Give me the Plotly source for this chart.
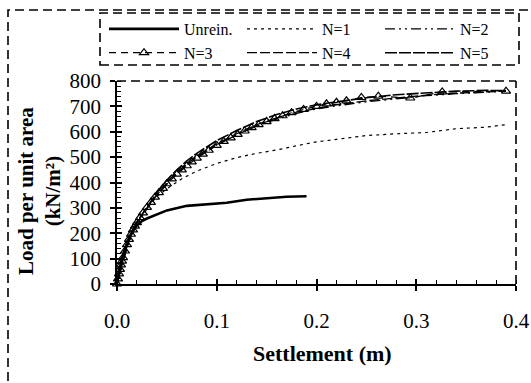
import plotly.graph_objects as go

# ---------------- data ----------------
unrein_x = [0, 0.002, 0.005, 0.008, 0.012, 0.016, 0.02, 0.025, 0.03, 0.04, 0.05, 0.07, 0.09, 0.11, 0.13, 0.15, 0.17, 0.19]
unrein_y = [0, 50, 100, 140, 180, 210, 232, 248, 258, 275, 290, 308, 314, 320, 332, 338, 344, 346]

n1_x = [0, 0.003, 0.006, 0.01, 0.015, 0.02, 0.03, 0.04, 0.05, 0.065, 0.08, 0.1, 0.12, 0.14, 0.16, 0.18, 0.2, 0.22, 0.25, 0.28, 0.31, 0.34, 0.37, 0.39]
n1_y = [0, 60, 110, 160, 210, 245, 300, 345, 375, 415, 445, 475, 498, 515, 528, 545, 560, 570, 585, 592, 597, 612, 618, 628]

upper_x = [0, 0.003, 0.006, 0.01, 0.015, 0.02, 0.03, 0.04, 0.05, 0.06, 0.07, 0.08, 0.1, 0.12, 0.14, 0.16, 0.18, 0.2, 0.22, 0.25, 0.28, 0.31, 0.34, 0.37, 0.39]
n2_y = [0, 45, 90, 142, 196, 236, 296, 348, 395, 435, 470, 500, 548, 588, 622, 650, 672, 690, 702, 718, 730, 742, 750, 757, 760]
n4_y = [0, 48, 92, 145, 200, 240, 300, 352, 400, 440, 474, 505, 552, 592, 628, 655, 677, 693, 706, 722, 734, 744, 752, 758, 760]
n5_y = [0, 50, 95, 150, 205, 245, 305, 360, 410, 450, 485, 515, 565, 605, 640, 668, 690, 706, 718, 734, 746, 754, 760, 763, 762]

n3_x = [0, 0.001, 0.002, 0.003, 0.004, 0.005, 0.006, 0.008, 0.01, 0.012, 0.014, 0.016, 0.018, 0.02, 0.023,
        0.026, 0.03, 0.034, 0.038, 0.042, 0.046, 0.05, 0.055, 0.06, 0.065, 0.07, 0.075, 0.08, 0.086, 0.092,
        0.1, 0.107, 0.114, 0.121, 0.128, 0.135, 0.142, 0.15, 0.158, 0.166, 0.175, 0.187, 0.2, 0.21, 0.22,
        0.23, 0.245, 0.262, 0.294, 0.326, 0.39]
n3_y = [0, 20, 40, 58, 75, 90, 104, 130, 155, 176, 196, 213, 228, 242, 262,
        280, 302, 322, 342, 360, 377, 395, 414, 433, 450, 466, 481, 496, 512, 527,
        546, 562, 576, 590, 603, 616, 628, 640, 652, 663, 675, 688, 700, 710, 716,
        722, 735, 740, 733, 757, 760]

x_ticks = [0, 0.1, 0.2, 0.3, 0.4]
x_ticklabels = ["0.0", "0.1", "0.2", "0.3", "0.4"]
y_ticks = [0, 100, 200, 300, 400, 500, 600, 700, 800]

# ---------------- figure ----------------
W, H = 531, 383
L, R, T, B = 117, 15, 81, 99
pw, ph = W - L - R, H - T - B

def px(xp):
    return (xp - L) / pw

def py(yp):
    return (H - B - yp) / ph

SERIF = "Liberation Serif, Times New Roman, serif"

fig = go.Figure()
fig.add_trace(go.Scatter(x=unrein_x, y=unrein_y, name="Unrein.", mode="lines",
                         line=dict(color="black", width=2.6)))
fig.add_trace(go.Scatter(x=n1_x, y=n1_y, name="N=1", mode="lines",
                         line=dict(color="black", width=1.2, dash="3px,4px")))
fig.add_trace(go.Scatter(x=upper_x, y=n2_y, name="N=2", mode="lines",
                         line=dict(color="black", width=1.3, dash="10px,4px,2px,4px,2px,4px")))
fig.add_trace(go.Scatter(x=n3_x, y=n3_y, name="N=3", mode="lines+markers",
                         line=dict(color="black", width=1.2, dash="7px,5px"),
                         marker=dict(symbol="triangle-up-open", size=8, color="black",
                                     line=dict(width=1.2, color="black")),
                         cliponaxis=False))
fig.add_trace(go.Scatter(x=upper_x, y=n4_y, name="N=4", mode="lines",
                         line=dict(color="black", width=1.3, dash="10px,3px")))
fig.add_trace(go.Scatter(x=upper_x, y=n5_y, name="N=5", mode="lines",
                         line=dict(color="black", width=1.6, dash="12px,2px")))

tickfont = dict(family=SERIF, size=21, color="black")

fig.update_layout(
    width=W, height=H,
    margin=dict(l=L, r=R, t=T, b=B, autoexpand=False),
    paper_bgcolor="white", plot_bgcolor="white",
    showlegend=True,
    legend=dict(orientation="h", x=px(104), xanchor="left", y=py(12), yanchor="top",
                font=dict(family=SERIF, size=16, color="black"),
                bgcolor="rgba(0,0,0,0)", borderwidth=0,
                entrywidth=53, entrywidthmode="pixels", itemwidth=70,
                traceorder="normal"),
    xaxis=dict(range=[0, 0.4], tickvals=x_ticks, ticktext=x_ticklabels,
               showgrid=False, zeroline=False, showline=True, linecolor="black", linewidth=1.5,
               ticks="outside", ticklen=5, tickwidth=1.5, tickcolor="black",
               minor=dict(dtick=0.02, ticks="inside", ticklen=4, tickwidth=1.3, tickcolor="black"),
               tickfont=tickfont, ticklabelstandoff=12),
    xaxis2=dict(range=[0, 0.4], overlaying="x", anchor="y", tickvals=x_ticks, showticklabels=False,
                showgrid=False, zeroline=False, showline=False,
                ticks="inside", ticklen=5, tickwidth=1.5, tickcolor="black"),
    yaxis=dict(range=[0, 800], tickvals=y_ticks,
               showgrid=False, zeroline=False, showline=True, linecolor="black", linewidth=1.5,
               ticks="outside", ticklen=5, tickwidth=1.5, tickcolor="black",
               minor=dict(dtick=20, ticks="inside", ticklen=4, tickwidth=1.3, tickcolor="black"),
               tickfont=tickfont, ticklabelstandoff=5),
    yaxis2=dict(range=[0, 800], overlaying="y", anchor="x", tickvals=y_ticks, showticklabels=False,
                showgrid=False, zeroline=False, showline=False, side="left",
                ticks="inside", ticklen=5, tickwidth=1.5, tickcolor="black"),
    annotations=[
        dict(text="<b>Load per unit area<br>(kN/m²)</b>", xref="paper", yref="paper",
             x=px(39), y=py(191), xanchor="center", yanchor="middle", textangle=-90,
             showarrow=False, font=dict(family=SERIF, size=21, color="black")),
        dict(text="<b>Settlement (m)</b>", xref="paper", yref="paper",
             x=px(322), y=py(353), xanchor="center", yanchor="middle",
             showarrow=False, font=dict(family=SERIF, size=22, color="black")),
    ],
    shapes=[
        # outer dashed frame
        dict(type="rect", xref="paper", yref="paper", x0=px(8), x1=px(560), y0=py(420), y1=py(10),
             line=dict(color="black", width=1.6, dash="9px,5px"), layer="below"),
        # legend dashed box
        dict(type="rect", xref="paper", yref="paper", x0=px(100), x1=px(519), y0=py(65), y1=py(13),
             line=dict(color="black", width=1.6, dash="9px,5px")),
        # dashed top and right plot frame
        dict(type="line", xref="paper", yref="paper", x0=0, x1=1, y0=1, y1=1,
             line=dict(color="black", width=1.6, dash="9px,5px")),
        dict(type="line", xref="paper", yref="paper", x0=1, x1=1, y0=0, y1=1,
             line=dict(color="black", width=1.6, dash="9px,5px")),
    ],
)

# invisible helper trace so the overlay tick axes are drawn
fig.add_trace(go.Scatter(x=[0], y=[0], xaxis="x2", yaxis="y2", mode="markers",
                         marker=dict(opacity=0), showlegend=False, hoverinfo="skip"))

fig.write_html("out.html")
